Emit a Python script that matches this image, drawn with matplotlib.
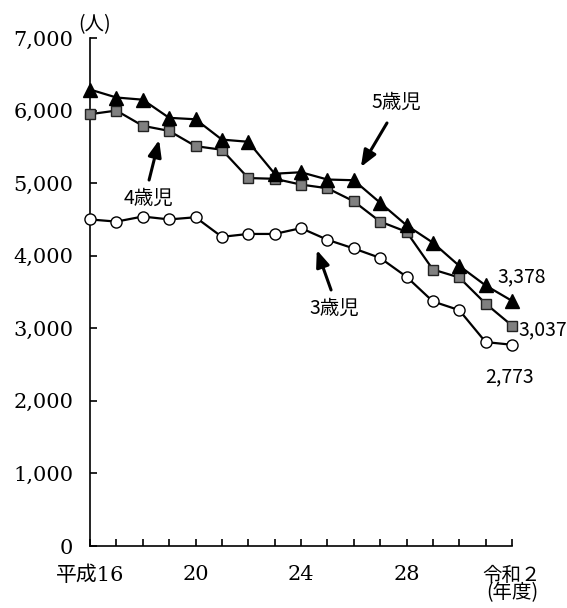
import matplotlib
matplotlib.use("Agg")
import matplotlib.pyplot as plt

years = list(range(17))  # 平成16 ... 令和2
tick_pos = [0, 4, 8, 12, 16]
tick_labels = ["平成16", "20", "24", "28", "令和２\n(年度)"]
y_ticks = [0, 1000, 2000, 3000, 4000, 5000, 6000, 7000]
y_labels = ["0", "1,000", "2,000", "3,000", "4,000", "5,000", "6,000", "7,000"]

age5 = [6290, 6180, 6150, 5900, 5880, 5600, 5570, 5130, 5150, 5050, 5040,
        4730, 4420, 4180, 3860, 3590, 3378]
age4 = [5950, 6000, 5790, 5720, 5510, 5460, 5070, 5060, 4980, 4930, 4750,
        4470, 4330, 3810, 3700, 3340, 3037]
age3 = [4500, 4470, 4540, 4500, 4530, 4260, 4300, 4300, 4380, 4220, 4100,
        3970, 3710, 3370, 3250, 2810, 2773]

serif = ["DejaVu Serif", "Noto Sans CJK JP"]
cjk = ["Noto Sans CJK JP", "DejaVu Sans"]

fig = plt.figure(figsize=(5.67, 6.08), dpi=100)
ax = fig.add_axes([90/567, 62/608, 422/567, 508/608])

ax.plot(years, age3, color="black", lw=1.6, marker="o", ms=8,
        mfc="white", mec="black", mew=1.0, clip_on=False, zorder=3)
ax.plot(years, age4, color="black", lw=1.6, marker="s", ms=7.5,
        mfc="#808080", mec="#222222", mew=1.0, clip_on=False, zorder=4)
ax.plot(years, age5, color="black", lw=1.6, marker="^", ms=9.5,
        mfc="black", mec="black", clip_on=False, zorder=5)

ax.set_xlim(0, 16)
ax.set_ylim(0, 7000)
for s in ["top", "right"]:
    ax.spines[s].set_visible(False)
for s in ["left", "bottom"]:
    ax.spines[s].set_linewidth(1.2)

ax.set_xticks(years, minor=True)
ax.set_xticks(tick_pos)
ax.set_xticklabels(tick_labels, fontfamily=serif, fontsize=15)
last = ax.get_xticklabels()[-1]
last.set_linespacing(0.72)
last.set_fontfamily(cjk)
last.set_fontsize(14)
ax.set_yticks(y_ticks)
ax.set_yticklabels(y_labels, fontfamily=serif, fontsize=15)
ax.tick_params(axis="both", which="both", direction="in", length=5, width=1.2)
ax.tick_params(axis="x", which="both", pad=14)
ax.tick_params(axis="y", pad=12)

ax.text(-0.45, 7190, "(人)", fontfamily=cjk, fontsize=14, ha="left", va="center")

arrow = dict(arrowstyle="-|>,head_length=1.0,head_width=0.4", color="black",
             lw=2.2, shrinkA=0, shrinkB=0)
ax.annotate("", xy=(10.27, 5222), xytext=(11.26, 5829), arrowprops=arrow)
ax.text(11.6, 6118, "5歳児", fontfamily=cjk, fontsize=14, ha="center", va="center")
ax.annotate("", xy=(2.62, 5595), xytext=(2.24, 5043), arrowprops=arrow)
ax.text(2.2, 4795, "4歳児", fontfamily=cjk, fontsize=14, ha="center", va="center")
ax.annotate("", xy=(8.6, 4079), xytext=(9.14, 3528), arrowprops=arrow)
ax.text(9.25, 3280, "3歳児", fontfamily=cjk, fontsize=14, ha="center", va="center")

ax.text(16.38, 3707, f"{age5[-1]:,}", fontfamily=cjk, fontsize=14, ha="center", va="center")
ax.text(17.17, 2977, f"{age4[-1]:,}", fontfamily=cjk, fontsize=14, ha="center", va="center")
ax.text(15.92, 2329, f"{age3[-1]:,}", fontfamily=cjk, fontsize=14, ha="center", va="center")

fig.savefig("out.png", dpi=100)
